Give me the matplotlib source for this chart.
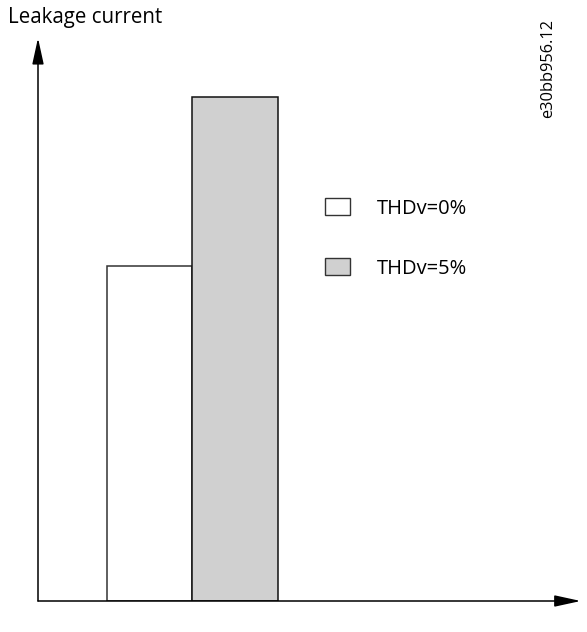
import matplotlib
matplotlib.use("Agg")
import matplotlib.pyplot as plt
from matplotlib.patches import Patch

plt.rcParams['font.family'] = ['Open Sans', 'DejaVu Sans']

# Data
labels = ["THDv=0%", "THDv=5%"]
positions = [1, 2]
values = [0.665, 1.0]
colors = ["#ffffff", "#d0d0d0"]
ylabel_text = "Leakage current"
code_text = "e30bb956.12"

W, H = 587, 632
fig = plt.figure(figsize=(W / 100, H / 100), dpi=100)
ax = fig.add_axes([38 / W, (H - 601) / H, 540 / W, (601 - 38) / H])

ax.bar(positions, values, width=1.0, color=colors, edgecolor=["#333333", "#111111"],
       linewidth=1.1, zorder=2)
ax.set_xlim(-0.304, 6.01)
ax.set_ylim(0, 1.117)

for s in ax.spines.values():
    s.set_visible(False)
ax.set_xticks([])
ax.set_yticks([])

arrow = dict(arrowstyle='-|>,head_length=1.6,head_width=0.35', color='black', lw=1.1,
             shrinkA=0, shrinkB=0)
ax.annotate('', xy=(0, 1), xytext=(0, 0), xycoords='axes fraction', arrowprops=arrow, zorder=3)
ax.annotate('', xy=(1.005, 0), xytext=(0, 0), xycoords='axes fraction', arrowprops=arrow, zorder=3)

handles = [Patch(facecolor=c, edgecolor='#333333', linewidth=1.0) for c in colors]
leg = ax.legend(handles, labels, loc='upper left', bbox_to_anchor=(307 / W, 1 - 180 / H),
                bbox_transform=fig.transFigure, frameon=False, fontsize=14.5,
                handlelength=1.25, handleheight=0.95, handletextpad=1.3,
                labelspacing=1.95)

fig.text(8 / W, 1 - 17 / H, ylabel_text, fontsize=14.8, ha='left', va='center')
fig.text(548 / W, 1 - 68 / H, code_text, fontsize=11.8, rotation=90, ha='center', va='center')

fig.savefig("out.png", dpi=100)
